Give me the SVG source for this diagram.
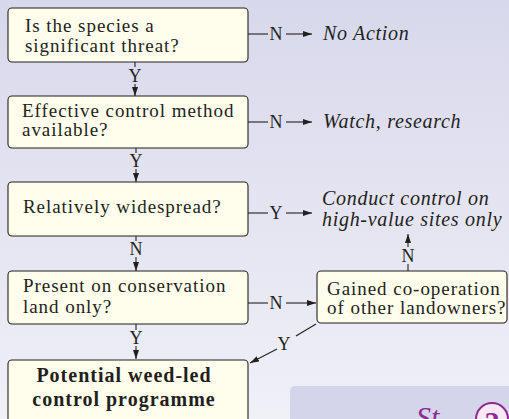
<svg xmlns="http://www.w3.org/2000/svg" width="509" height="419" viewBox="0 0 509 419">
<defs>
<linearGradient id="bg" x1="0" y1="0" x2="0" y2="1">
<stop offset="0" stop-color="#d8d8ec"/>
<stop offset="1" stop-color="#f0f0f7"/>
</linearGradient>
<marker id="ah" markerUnits="userSpaceOnUse" markerWidth="9" markerHeight="7" refX="9" refY="3.5" orient="auto">
<path d="M0,0.5 L9,3.5 L0,6.5 z" fill="#231f20"/>
</marker>
<style>
text{font-family:'Liberation Serif','Times New Roman',serif}
.box{fill:#fffdeb;stroke:#231f20;stroke-width:1.1}
.t{font-size:19px;letter-spacing:0.95px;fill:#231f20}
.b{font-weight:bold;font-size:20px;letter-spacing:1px}
.i{font-style:italic;font-size:20px;letter-spacing:0.7px}
.lb{font-size:18px;fill:#231f20;text-anchor:middle}
.c{stroke:#231f20;stroke-width:1.1;fill:none}
.a{marker-end:url(#ah)}
</style>
</defs>
<rect width="509" height="419" fill="url(#bg)"/>
<g id="panel">
<rect x="290" y="386" width="230" height="50" rx="5" fill="#d4d4ea"/>
<text x="416" y="427" font-style="italic" font-size="30" fill="#8e2b8e">St</text>
<circle cx="492" cy="419" r="16" fill="#f7e8f4" stroke="#8e2b8e" stroke-width="2"/>
<text x="492" y="432" font-weight="bold" font-size="30" fill="#8e2b8e" text-anchor="middle">2</text>
</g>
<g id="connectors">
<line class="c" x1="135" y1="62" x2="135" y2="67"/>
<text class="lb" x="135" y="82">Y</text>
<line class="c a" x1="135" y1="84" x2="135" y2="96"/>
<line class="c" x1="136" y1="148" x2="136" y2="153"/>
<text class="lb" x="136" y="167">Y</text>
<line class="c a" x1="136" y1="169" x2="136" y2="182"/>
<line class="c" x1="136" y1="236" x2="136" y2="241"/>
<text class="lb" x="136" y="255">N</text>
<line class="c a" x1="136" y1="257" x2="136" y2="271"/>
<line class="c" x1="136" y1="324" x2="136" y2="330"/>
<text class="lb" x="136" y="344">Y</text>
<line class="c a" x1="136" y1="346" x2="136" y2="359"/>
<line class="c" x1="248" y1="34" x2="268" y2="34"/>
<text class="lb" x="276" y="40">N</text>
<line class="c a" x1="286" y1="34" x2="312" y2="34"/>
<line class="c" x1="248" y1="122" x2="268" y2="122"/>
<text class="lb" x="276" y="128">N</text>
<line class="c a" x1="286" y1="122" x2="312" y2="122"/>
<line class="c" x1="248" y1="213" x2="268" y2="213"/>
<text class="lb" x="276" y="219">Y</text>
<line class="c a" x1="286" y1="213" x2="312" y2="213"/>
<line class="c" x1="248" y1="303" x2="268" y2="303"/>
<text class="lb" x="276" y="309">N</text>
<line class="c a" x1="286" y1="303" x2="316" y2="303"/>
<line class="c" x1="408" y1="271" x2="408" y2="264"/>
<text class="lb" x="408" y="262">N</text>
<line class="c a" x1="408" y1="247" x2="408" y2="234"/>
<line class="c" x1="316" y1="324" x2="296" y2="336"/>
<text class="lb" x="284" y="350">Y</text>
<line class="c a" x1="277" y1="349" x2="250" y2="363"/>
</g>
<g id="n1">
<rect class="box" x="8" y="8" width="240" height="54" rx="4"/>
<text class="t" x="25" y="32">Is the species a</text>
<text class="t" x="25" y="52">significant threat?</text>
</g>
<g id="n2">
<rect class="box" x="8" y="96" width="240" height="52" rx="4"/>
<text class="t" x="22" y="117">Effective control method</text>
<text class="t" x="22" y="136">available?</text>
</g>
<g id="n3">
<rect class="box" x="8" y="182" width="240" height="54" rx="4"/>
<text class="t" x="23" y="213">Relatively widespread?</text>
</g>
<g id="n4">
<rect class="box" x="8" y="271" width="240" height="53" rx="4"/>
<text class="t" x="23" y="292">Present on conservation</text>
<text class="t" x="23" y="313">land only?</text>
</g>
<g id="n5">
<rect class="box" x="8" y="360" width="240" height="80" rx="4"/>
<text class="t b" x="124" y="382" text-anchor="middle">Potential weed-led</text>
<text class="t b" x="124" y="406" text-anchor="middle">control programme</text>
</g>
<g id="n6">
<rect class="box" x="317" y="271" width="190" height="52" rx="4"/>
<text class="t" x="327" y="295">Gained co-operation</text>
<text class="t" x="327" y="314">of other landowners?</text>
</g>
<g id="o1"><text class="t i" x="323" y="40">No Action</text></g>
<g id="o2"><text class="t i" x="323" y="128">Watch, research</text></g>
<g id="o3">
<text class="t i" x="322" y="205">Conduct control on</text>
<text class="t i" x="322" y="226">high-value sites only</text>
</g>
</svg>
